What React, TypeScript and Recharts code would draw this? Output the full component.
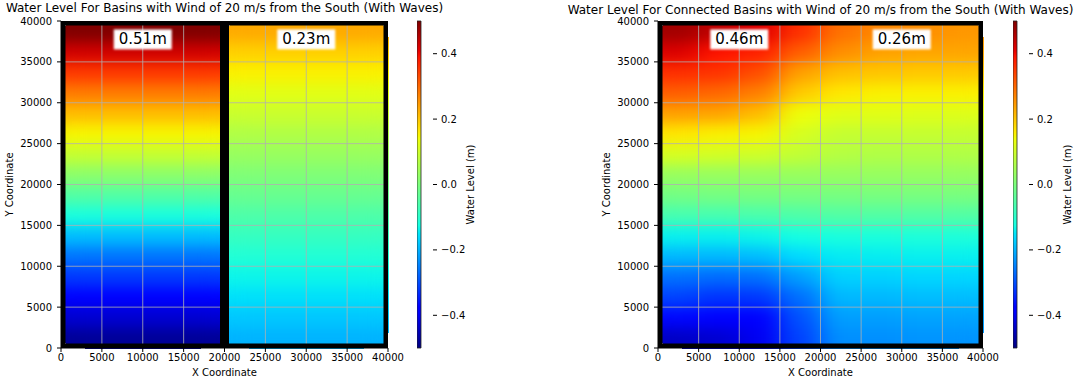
import {
  ScatterChart,
  ComposedChart,
  Scatter,
  XAxis,
  YAxis,
  ReferenceArea,
  ReferenceLine,
} from 'recharts';

const FONT = "'DejaVu Sans', sans-serif";

// Axis ticks (m) shared by both panels
const coordTicks = [0, 5000, 10000, 15000, 20000, 25000, 30000, 35000, 40000];
const gridTicks = [5000, 10000, 15000, 20000, 25000, 30000, 35000];

// Colour bar range and ticks (water level, m)
const levelMin = -0.5;
const levelMax = 0.5;
const levelTicks = [-0.4, -0.2, 0, 0.2, 0.4];

// Separate basins: water level per 2500 m band, south (y=0) to north
const westBasinLevels = [
  -0.48, -0.43, -0.38, -0.32, -0.26, -0.19, -0.12, -0.05,
  0.02, 0.09, 0.15, 0.21, 0.28, 0.35, 0.43, 0.51,
];
const eastBasinLevels = [
  -0.2, -0.18, -0.155, -0.135, -0.11, -0.085, -0.055, -0.025,
  0.005, 0.035, 0.065, 0.095, 0.125, 0.155, 0.19, 0.23,
];

// Connected basins: 2500 m bands south to north, 5000 m columns west to east
const connectedLevels = [
  [-0.44, -0.43, -0.4, -0.31, -0.235, -0.235, -0.23, -0.23],
  [-0.37, -0.38, -0.375, -0.295, -0.22, -0.22, -0.215, -0.215],
  [-0.31, -0.325, -0.32, -0.265, -0.195, -0.195, -0.19, -0.19],
  [-0.265, -0.27, -0.265, -0.22, -0.17, -0.17, -0.165, -0.165],
  [-0.195, -0.195, -0.19, -0.16, -0.145, -0.143, -0.14, -0.14],
  [-0.14, -0.14, -0.135, -0.125, -0.12, -0.118, -0.115, -0.115],
  [-0.065, -0.065, -0.06, -0.055, -0.05, -0.05, -0.05, -0.05],
  [-0.01, -0.008, -0.006, -0.005, -0.005, -0.004, -0.004, -0.004],
  [0.035, 0.035, 0.035, 0.034, 0.033, 0.033, 0.032, 0.032],
  [0.11, 0.105, 0.1, 0.085, 0.07, 0.065, 0.065, 0.065],
  [0.165, 0.155, 0.15, 0.11, 0.09, 0.09, 0.09, 0.09],
  [0.24, 0.235, 0.21, 0.14, 0.123, 0.123, 0.12, 0.12],
  [0.31, 0.3, 0.275, 0.195, 0.164, 0.155, 0.155, 0.155],
  [0.36, 0.355, 0.326, 0.24, 0.207, 0.2, 0.197, 0.197],
  [0.42, 0.39, 0.375, 0.31, 0.26, 0.24, 0.235, 0.235],
  [0.47, 0.445, 0.416, 0.36, 0.29, 0.267, 0.26, 0.25],
];

// Annotated levels near the north wall
const separateTags = [
  { x: 10000, y: 37750, text: '0.51m' },
  { x: 30000, y: 37750, text: '0.23m' },
];
const connectedTags = [
  { x: 10000, y: 37750, text: '0.46m' },
  { x: 30000, y: 37750, text: '0.26m' },
];

// matplotlib "jet" colormap breakpoints
const JET_R = [[0, 0], [0.35, 0], [0.66, 1], [0.89, 1], [1, 0.5]];
const JET_G = [[0, 0], [0.125, 0], [0.375, 1], [0.64, 1], [0.91, 0], [1, 0]];
const JET_B = [[0, 0.5], [0.11, 1], [0.34, 1], [0.65, 0], [1, 0]];
const JET_STOPS = [0, 0.11, 0.125, 0.34, 0.35, 0.375, 0.64, 0.65, 0.66, 0.89, 0.91, 1];

function channel(pts: number[][], t: number) {
  for (let i = 1; i < pts.length; i++) {
    if (t <= pts[i][0]) {
      const [t0, v0] = pts[i - 1];
      const [t1, v1] = pts[i];
      return v0 + ((t - t0) / (t1 - t0)) * (v1 - v0);
    }
  }
  return pts[pts.length - 1][1];
}

function jet(t: number) {
  const c = Math.min(1, Math.max(0, t));
  const to255 = (v: number) => Math.round(v * 255);
  return `rgb(${to255(channel(JET_R, c))},${to255(channel(JET_G, c))},${to255(channel(JET_B, c))})`;
}

const levelColor = (v: number) => jet((v - levelMin) / (levelMax - levelMin));

// Draws a grid of level cells inside the pixel box handed over by ReferenceArea
function HeatField({ x, y, width, height, rows }: any) {
  const nRows = rows.length;
  const nCols = rows[0].length;
  const cw = width / nCols;
  const ch = height / nRows;
  return (
    <g filter="url(#fieldSmooth)">
      {rows.map((row: number[], r: number) =>
        row.map((v: number, c: number) => (
          <rect
            key={`${r}-${c}`}
            x={x + c * cw}
            y={y + height - (r + 1) * ch}
            width={cw + 0.6}
            height={ch + 0.6}
            fill={levelColor(v)}
          />
        ))
      )}
    </g>
  );
}

function LevelTag({ cx, cy, payload }: any) {
  return (
    <g>
      <rect x={cx - 29} y={cy - 10} width={58} height={20} fill="#fff" filter="url(#tagGlow)" />
      <text
        x={cx}
        y={cy}
        textAnchor="middle"
        dominantBaseline="central"
        fontSize={15}
        fontFamily={FONT}
        fill="#000"
      >
        {payload.text}
      </text>
    </g>
  );
}

const tickStyle = { fontSize: 10, fill: '#000', fontFamily: FONT };

function Panel({ left, plotWidth, title, titleTop, fields, walls, tags }: any) {
  return (
    <div style={{ position: 'absolute', left, top: 0 }}>
      <div
        style={{
          position: 'absolute',
          left: 61 + plotWidth / 2 - 300,
          width: 600,
          top: titleTop,
          textAlign: 'center',
          fontSize: 12,
          fontFamily: FONT,
          color: '#000',
          whiteSpace: 'nowrap',
        }}
      >
        {title}
      </div>
      <ScatterChart
        width={61 + plotWidth + 22}
        height={381}
        margin={{ top: 21, right: 22, bottom: 0, left: 0 }}
      >
        <XAxis
          type="number"
          dataKey="x"
          domain={[0, 40000]}
          ticks={coordTicks}
          interval={0}
          allowDataOverflow
          height={33}
          tickSize={4}
          tickMargin={2}
          tick={tickStyle}
          stroke="#000"
          label={{ value: 'X Coordinate', position: 'insideBottom', offset: 5, fontSize: 10, fill: '#000', fontFamily: FONT }}
        />
        <YAxis
          type="number"
          dataKey="y"
          domain={[0, 40000]}
          ticks={coordTicks}
          interval={0}
          allowDataOverflow
          width={61}
          tickSize={4}
          tickMargin={5}
          tick={tickStyle}
          stroke="#000"
          label={{
            value: 'Y Coordinate',
            angle: -90,
            position: 'insideLeft',
            offset: 9,
            fontSize: 10,
            fill: '#000',
            fontFamily: FONT,
            style: { textAnchor: 'middle' },
          }}
        />
        {fields.map((f: any, i: number) => (
          <ReferenceArea
            key={`field-${i}`}
            x1={f.x1}
            x2={f.x2}
            y1={0}
            y2={40000}
            shape={(p: any) => <HeatField {...p} rows={f.rows} />}
          />
        ))}
        {gridTicks.map((v) => (
          <ReferenceLine key={`gx-${v}`} x={v} stroke="#b0b0b0" strokeWidth={0.8} />
        ))}
        {gridTicks.map((v) => (
          <ReferenceLine key={`gy-${v}`} y={v} stroke="#b0b0b0" strokeWidth={0.8} />
        ))}
        {walls.map((v: number) => (
          <ReferenceLine key={`wx-${v}`} x={v} stroke="#000" strokeWidth={9} ifOverflow="hidden" />
        ))}
        {[0, 40000].map((v) => (
          <ReferenceLine key={`wy-${v}`} y={v} stroke="#000" strokeWidth={9} ifOverflow="hidden" />
        ))}
        <Scatter data={tags} isAnimationActive={false} shape={(p: any) => <LevelTag {...p} />} />
      </ScatterChart>
    </div>
  );
}

function ColorBar({ left, axisWidth, labelOffset }: any) {
  const fmt = (v: number) => (v < 0 ? '\u2212' : '') + Math.abs(v).toFixed(1);
  return (
    <div style={{ position: 'absolute', left, top: 0 }}>
      <ComposedChart
        width={16 + axisWidth}
        height={381}
        margin={{ top: 21, right: 0, bottom: 33, left: 0 }}
        data={levelTicks.map((v) => ({ level: v }))}
      >
        <XAxis type="number" hide domain={[0, 1]} allowDataOverflow />
        <YAxis
          orientation="right"
          type="number"
          domain={[levelMin, levelMax]}
          ticks={levelTicks}
          interval={0}
          allowDataOverflow
          width={axisWidth}
          axisLine={false}
          tickSize={4}
          tickMargin={4}
          tick={tickStyle}
          tickLine={{ stroke: '#000' }}
          tickFormatter={fmt}
          label={{
            value: 'Water Level (m)',
            angle: -90,
            position: 'insideRight',
            offset: labelOffset,
            fontSize: 10,
            fill: '#000',
            fontFamily: FONT,
            style: { textAnchor: 'middle' },
          }}
        />
        <ReferenceArea
          x1={0}
          x2={1}
          y1={levelMin}
          y2={levelMax}
          fill="url(#jetRamp)"
          fillOpacity={1}
          stroke="#222"
          strokeWidth={0.8}
        />
      </ComposedChart>
    </div>
  );
}

export default function App() {
  const toRows = (profile: number[]) => profile.map((v) => [v]);
  return (
    <div
      style={{
        position: 'absolute',
        left: 0,
        top: 0,
        width: 1076,
        height: 381,
        background: '#fff',
        overflow: 'hidden',
      }}
    >
      <svg width={0} height={0} style={{ position: 'absolute' }}>
        <defs>
          <filter id="fieldSmooth" x="-5%" y="-5%" width="110%" height="110%" colorInterpolationFilters="sRGB">
            <feGaussianBlur stdDeviation="12 7" />
            <feComponentTransfer>
              <feFuncA type="discrete" tableValues="0 1" />
            </feComponentTransfer>
          </filter>
          <filter id="tagGlow" x="-20%" y="-40%" width="140%" height="180%">
            <feGaussianBlur stdDeviation="1.3" />
          </filter>
          <linearGradient id="jetRamp" x1="0" y1="1" x2="0" y2="0">
            {JET_STOPS.map((t) => (
              <stop key={t} offset={t} stopColor={jet(t)} />
            ))}
          </linearGradient>
        </defs>
      </svg>
      <Panel
        left={0}
        plotWidth={327}
        title="Water Level For Basins with Wind of 20 m/s from the South (With Waves)"
        titleTop={1}
        fields={[
          { x1: 0, x2: 20000, rows: toRows(westBasinLevels) },
          { x1: 20000, x2: 40000, rows: toRows(eastBasinLevels) },
        ]}
        walls={[0, 20000, 40000]}
        tags={separateTags}
      />
      <ColorBar left={417} axisWidth={60} labelOffset={23} />
      <Panel
        left={597}
        plotWidth={325}
        title="Water Level For Connected Basins with Wind of 20 m/s from the South (With Waves)"
        titleTop={3}
        fields={[{ x1: 0, x2: 40000, rows: connectedLevels }]}
        walls={[0, 40000]}
        tags={connectedTags}
      />
      <ColorBar left={1013} axisWidth={47} labelOffset={9} />
    </div>
  );
}
